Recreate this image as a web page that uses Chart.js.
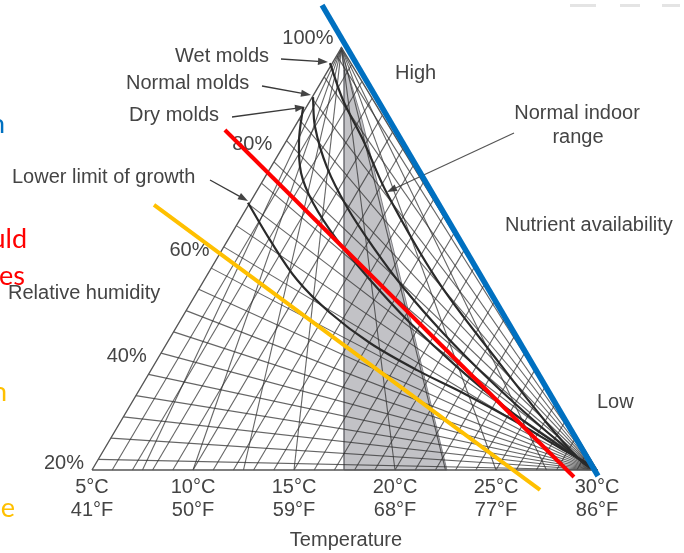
<!DOCTYPE html>
<html><head><meta charset="utf-8">
<script src="https://cdn.jsdelivr.net/npm/chart.js@4.4.1/dist/chart.umd.min.js"></script>
<style>html,body{margin:0;padding:0;background:#fff;overflow:hidden}canvas{display:block}</style>
</head><body>
<canvas id="c" width="684" height="553"></canvas>
<script>
// ---------- axis ticks ----------
const tempTicks   = [5, 10, 15, 20, 25, 30];
const tempLabelsC = ['5°C', '10°C', '15°C', '20°C', '25°C', '30°C'];
const tempLabelsF = ['41°F', '50°F', '59°F', '68°F', '77°F', '86°F'];
const rhTicks     = [20, 40, 60, 80, 100];
const rhLabels    = ['20%', '40%', '60%', '80%', '100%'];

// ---------- triangle (temperature °C, relative humidity %) ----------
const triT  = [5, 17.35, 30, 5];
const triRH = [20, 99.5, 20, 20];

// ---------- mesh levels ----------
const fanRH = [22,26,30,34,38,42,46,50,54,58,62,66,70,74,78,82,86,90,94,98];
const parallelT = [6,7,8,9,10,11,12,13,14,15,16,17,18,19,20,21,22,23,24,25,26,27,28,29];
const apexFanT = [7.5,10,12.5,15,20,22.5,25,27.5];

// ---------- normal indoor range (shaded) ----------
const indoorT  = [17.33, 17.48, 17.48, 22.57, 18.37, 17.33];
const indoorRH = [99.06, 95.3, 20, 20, 85.88, 99.06];

// ---------- growth curves ----------
const wetT     = [16.78, 17.43, 18.42, 19.60, 22.08, 25.05, 27.52, 29.31, 29.75];
const wetRH    = [96.6, 89.6, 82.1, 72.1, 55.8, 40.7, 28.8, 21.3, 20.3];
const normalT  = [15.94, 16.04, 16.63, 17.62, 18.91, 20.40, 22.38, 24.70, 27.03, 29.31, 29.75];
const normalRH = [90.2, 84.6, 77.0, 69.5, 62.0, 54.4, 45.8, 36.9, 28.8, 21.5, 20.3];
const dryT     = [15.45, 15.25, 15.35, 15.94, 17.13, 18.76, 20.74, 23.07, 25.84, 29.31, 29.75];
const dryRH    = [88.3, 82.1, 75.9, 70.3, 63.3, 55.8, 47.7, 39.4, 30.7, 21.5, 20.3];
const lowerT   = [12.72, 13.81, 15.15, 16.78, 18.76, 21.09, 23.37, 25.84, 28.32, 29.50, 29.75];
const lowerRH  = [70.3, 63.3, 55.8, 49.6, 43.9, 38.8, 34.5, 29.4, 23.8, 21.3, 20.3];

// ---------- overlaid straight lines ----------
const blueT = [16.39, 30.05],  blueRH = [107.5, 18.87];
const redT  = [11.58, 28.86],  redRH  = [84.0, 18.68];
const yellowT = [8.07, 27.18], yellowRH = [69.9, 16.24];

// ---------- build datasets ----------
const pts = (xs, ys) => xs.map((v, i) => ({x: v, y: ys[i]}));
function ds(xs, ys, style) {
  return Object.assign({data: pts(xs, ys), showLine: true, pointRadius: 0, pointHoverRadius: 0,
                        fill: false, tension: 0}, style);
}
const A = {t: triT[1], h: triRH[1]}, L = {t: triT[0], h: triRH[0]}, R = {t: triT[2], h: triRH[2]};
const meshStyle = {borderColor: 'rgba(50,50,50,0.75)', borderWidth: 1.1, order: 5};
const datasets = [];
// fan from the 30°C corner to the left edge
fanRH.forEach(h => {
  const f = (h - L.h) / (A.h - L.h);
  datasets.push(ds([R.t, L.t + f * (A.t - L.t)], [R.h, h], meshStyle));
});
// lines parallel to the left edge
parallelT.forEach(t => {
  const s = (R.t - t) / ((A.t - L.t) + (R.t - A.t));
  datasets.push(ds([t, t + s * (A.t - L.t)], [L.h, L.h + s * (A.h - L.h)], meshStyle));
});
// fan from the apex
apexFanT.forEach(t => datasets.push(ds([t, A.t], [L.h, A.h], meshStyle)));
// shaded region
datasets.push(ds(indoorT, indoorRH, {fill: 'shape', backgroundColor: '#c2c2c6', borderColor: 'rgba(120,120,125,0.9)', borderWidth: 1, order: 6}));
// triangle outline
datasets.push(ds(triT, triRH, {borderColor: '#555', borderWidth: 1.4, order: 4}));
// curves
const curveStyle = {borderColor: '#2a2a2a', borderWidth: 2.2, tension: 0.35, order: 3};
datasets.push(ds(wetT, wetRH, curveStyle));
datasets.push(ds(normalT, normalRH, curveStyle));
datasets.push(ds(dryT, dryRH, curveStyle));
datasets.push(ds(lowerT, lowerRH, curveStyle));
// overlay lines
datasets.push(ds(yellowT, yellowRH, {borderColor: '#ffc000', borderWidth: 4, order: 1}));
datasets.push(ds(redT, redRH, {borderColor: '#ff0000', borderWidth: 4, order: 1}));
datasets.push(ds(blueT, blueRH, {borderColor: '#0070c0', borderWidth: 5.5, order: 1}));

function arrow(ctx, x1, y1, x2, y2) {
  const a = Math.atan2(y2 - y1, x2 - x1), len = 10, w = 3.6;
  ctx.beginPath(); ctx.moveTo(x1, y1); ctx.lineTo(x2 - len * 0.6 * Math.cos(a), y2 - len * 0.6 * Math.sin(a)); ctx.stroke();
  ctx.beginPath();
  ctx.moveTo(x2, y2);
  ctx.lineTo(x2 - len * Math.cos(a) + w * Math.sin(a), y2 - len * Math.sin(a) - w * Math.cos(a));
  ctx.lineTo(x2 - len * Math.cos(a) - w * Math.sin(a), y2 - len * Math.sin(a) + w * Math.cos(a));
  ctx.closePath(); ctx.fill();
}

const labels = {
  id: 'labels',
  beforeDatasetsDraw(chart) {
    const {ctx, scales: {x, y}} = chart;
    ctx.save();
    ctx.fillStyle = '#444'; ctx.strokeStyle = '#3a3a3a'; ctx.lineWidth = 1.3;
    ctx.font = '20px "Liberation Sans", Arial, sans-serif';
    ctx.textBaseline = 'middle';
    ctx.textAlign = 'center';
    tempTicks.forEach((t, i) => {
      const px = x.getPixelForValue(t);
      ctx.fillText(tempLabelsC[i], px, 487);
      ctx.fillText(tempLabelsF[i], px, 510);
    });
    ctx.fillText('Temperature', 346, 540);
    ctx.textAlign = 'right';
    rhTicks.forEach((h, i) => {
      const f = (h - L.h) / (A.h - L.h);
      const t = L.t + Math.min(f, 1) * (A.t - L.t);
      ctx.fillText(rhLabels[i], x.getPixelForValue(t) - 8, y.getPixelForValue(h) - 7);
    });
    ctx.textAlign = 'left';
    ctx.fillText('Relative humidity', 8, 293);
    ctx.fillText('Wet molds', 175, 56);
    ctx.fillText('Normal molds', 126, 83);
    ctx.fillText('Dry molds', 129, 115);
    ctx.fillText('Lower limit of growth', 12, 177);
    ctx.fillText('High', 395, 73);
    ctx.fillText('Nutrient availability', 505, 225);
    ctx.fillText('Low', 597, 402);
    ctx.textAlign = 'center';
    ctx.fillText('Normal indoor', 577, 113);
    ctx.fillText('range', 578, 137);
    arrow(ctx, 281, 59, 328, 62);
    arrow(ctx, 262, 86, 311, 95);
    arrow(ctx, 232, 117, 305, 107);
    arrow(ctx, 210, 180, 248, 201);
    ctx.strokeStyle = '#555'; ctx.lineWidth = 1.2;
    arrow(ctx, 514, 133, 387, 192);
    ctx.restore();
  },
  afterDraw(chart) {
    const ctx = chart.ctx;
    ctx.save();
    ctx.font = '27px Lato, "Open Sans", sans-serif';
    ctx.textAlign = 'right'; ctx.textBaseline = 'alphabetic';
    ctx.fillStyle = '#0070c0'; ctx.fillText('n', 5, 133);
    ctx.fillStyle = '#ff0000'; ctx.fillText('uld', 27, 248); ctx.fillText('es', 25, 285);
    ctx.fillStyle = '#ffc000'; ctx.fillText('n', 7, 401); ctx.fillText('e', 15, 517);
    ctx.fillStyle = '#e4e4e4';
    ctx.fillRect(570, 4, 26, 3); ctx.fillRect(620, 4, 20, 3); ctx.fillRect(662, 4, 18, 3);
    ctx.restore();
  }
};

new Chart(document.getElementById('c'), {
  type: 'scatter',
  data: {datasets},
  options: {
    responsive: false, animation: false, devicePixelRatio: 1,
    layout: {padding: 0},
    plugins: {legend: {display: false}, tooltip: {enabled: false}},
    scales: {
      x: {type: 'linear', display: false, min: 0.446, max: 34.307},
      y: {type: 'linear', display: false, min: 4.376, max: 108.47}
    },
    events: []
  },
  plugins: [labels]
});
</script>
</body></html>
